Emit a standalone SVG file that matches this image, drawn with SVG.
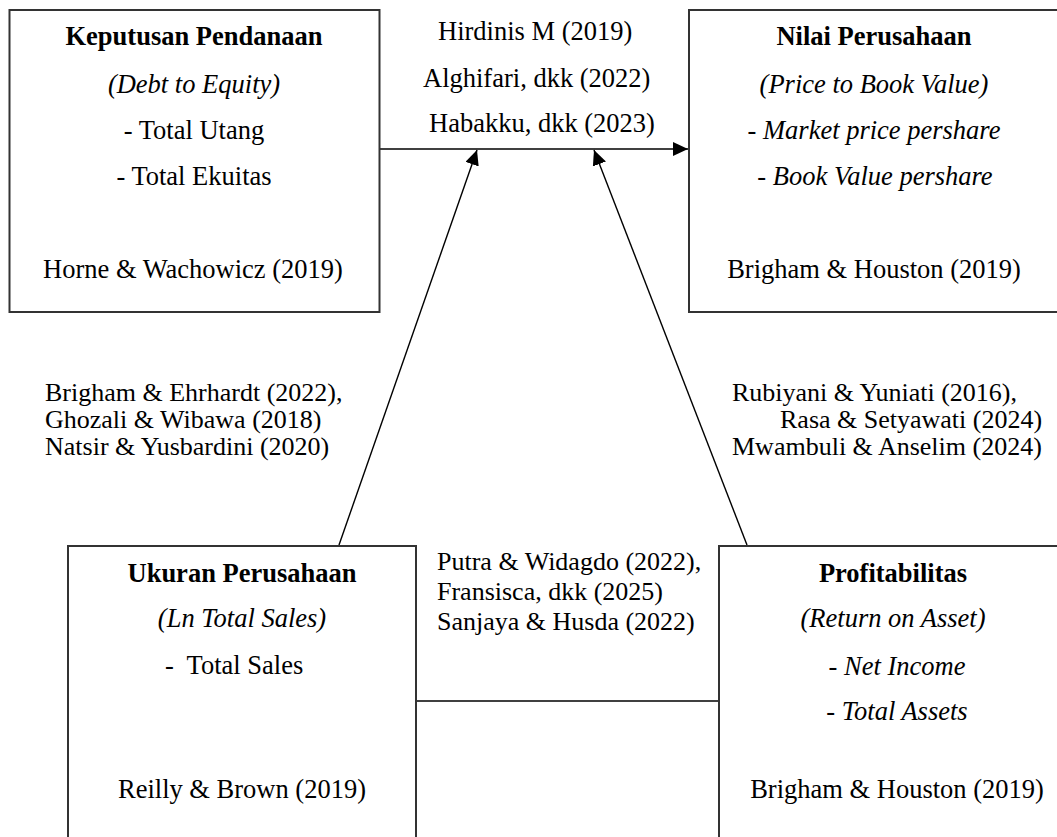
<svg xmlns="http://www.w3.org/2000/svg" width="1057" height="837" viewBox="0 0 1057 837">
<style>
.box{fill:#fff;stroke:#333;stroke-width:2}
.con{stroke:#000;stroke-width:1.4;fill:none}
text{font-family:"Liberation Serif","Times New Roman",serif;font-size:26.5px;fill:#000}
.s{font-size:26px}
.c{text-anchor:middle}
.b{font-weight:bold}
.i{font-style:italic}
</style>
<defs>
<marker id="ah" markerUnits="userSpaceOnUse" markerWidth="16" markerHeight="14" refX="15" refY="7" orient="auto">
<path d="M0,0 L15,7 L0,14 z" fill="#000"/>
</marker>
</defs>
<rect width="1057" height="837" fill="#fff"/>
<g id="connectors">
<line class="con" x1="380" y1="149" x2="688" y2="149" marker-end="url(#ah)"/>
<line class="con" x1="339" y1="545" x2="477" y2="150" marker-end="url(#ah)"/>
<line class="con" x1="747" y1="545" x2="594" y2="150" marker-end="url(#ah)"/>
<line class="con" x1="416" y1="701" x2="719" y2="701"/>
</g>
<g id="keputusan">
<rect class="box" x="9.5" y="10" width="370" height="302"/>
<text class="c b" x="194" y="45">Keputusan Pendanaan</text>
<text class="c i" x="194" y="93">(Debt to Equity)</text>
<text class="c" x="194" y="139">- Total Utang</text>
<text class="c" x="194" y="185">- Total Ekuitas</text>
<text class="c" x="193" y="278">Horne &amp; Wachowicz (2019)</text>
</g>
<g id="nilai">
<rect class="box" x="689" y="10" width="372" height="302"/>
<text class="c b" x="874" y="45">Nilai Perusahaan</text>
<text class="c i" x="874" y="93">(Price to Book Value)</text>
<text class="c" x="874" y="139">- <tspan class="i">Market price pershare</tspan></text>
<text class="c" x="875" y="185">- <tspan class="i">Book Value pershare</tspan></text>
<text class="c" x="874" y="278">Brigham &amp; Houston (2019)</text>
</g>
<g id="ukuran">
<rect class="box" x="68" y="546" width="348" height="302"/>
<text class="c b" x="242" y="582">Ukuran Perusahaan</text>
<text class="c i" x="242" y="627">(Ln Total Sales)</text>
<text x="165" y="674" xml:space="preserve">-  Total Sales</text>
<text class="c" x="242" y="798">Reilly &amp; Brown (2019)</text>
</g>
<g id="profitabilitas">
<rect class="box" x="719" y="546" width="350" height="302"/>
<text class="c b" x="893" y="582">Profitabilitas</text>
<text class="c i" x="893" y="627">(Return on Asset)</text>
<text class="c" x="897" y="675">- <tspan class="i">Net Income</tspan></text>
<text class="c" x="897" y="720">- <tspan class="i">Total Assets</tspan></text>
<text class="c" x="897" y="798">Brigham &amp; Houston (2019)</text>
</g>
<g id="labels">
<text x="438" y="40">Hirdinis M (2019)</text>
<text x="423" y="87">Alghifari, dkk (2022)</text>
<text x="429" y="132">Habakku, dkk (2023)</text>
<text class="s" x="45" y="401">Brigham &amp; Ehrhardt (2022),</text>
<text class="s" x="45" y="428">Ghozali &amp; Wibawa (2018)</text>
<text class="s" x="45" y="455">Natsir &amp; Yusbardini (2020)</text>
<text class="s" x="732" y="401">Rubiyani &amp; Yuniati (2016),</text>
<text class="s" x="780" y="428">Rasa &amp; Setyawati (2024)</text>
<text class="s" x="732" y="455">Mwambuli &amp; Anselim (2024)</text>
<text class="s" x="437" y="570">Putra &amp; Widagdo (2022),</text>
<text class="s" x="437" y="600">Fransisca, dkk (2025)</text>
<text class="s" x="437" y="630">Sanjaya &amp; Husda (2022)</text>
</g>
</svg>
